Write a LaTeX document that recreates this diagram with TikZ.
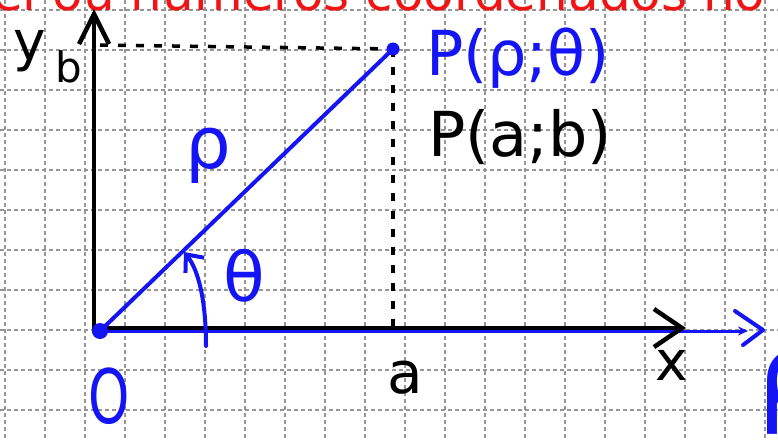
\documentclass[tikz,border=0pt]{standalone}
\usepackage{fontspec}
\setmainfont{DejaVu Sans}
\usetikzlibrary{arrows.meta}
\definecolor{penblue}{RGB}{20,20,245}
\definecolor{penred}{RGB}{240,20,20}
\definecolor{gridgray}{RGB}{150,150,150}
\begin{document}
\begin{tikzpicture}[x=1pt,y=-1pt,
  gridline/.style={gridgray,line width=1.3pt,dash pattern=on 4pt off 3pt},
  axisline/.style={black,line width=4.5pt,line cap=round},
  pen/.style={penblue,line width=4pt,line cap=round,line join=round},
  guide/.style={black,line width=3.5pt,dash pattern=on 8pt off 10pt},
  lbl/.style={inner sep=0pt}]
\fill[white] (0,0) rectangle (778,441);
\useasboundingbox (0,0) rectangle (778,441);
\clip (0,0) rectangle (778,441);
% grid
\foreach \i in {0,...,19} \draw[gridline] (5+40*\i,0) -- (5+40*\i,441);
\foreach \j in {0,...,10} \draw[gridline] (0,10+40*\j) -- (778,10+40*\j);
% red heading (cut off at top)
\node[penred,inner sep=0pt,anchor=base west,font=\fontsize{50}{50}\selectfont] (title) at (-8,11) {ei ou números coordenados no};
% coordinates
\coordinate (O) at (100,331);
\coordinate (P) at (393,49);
\coordinate (ybot) at (94,332);
\coordinate (ytop) at (94,9);
\coordinate (xleft) at (94,328);
\coordinate (xright) at (686,328);
\coordinate (rhoend) at (748,331);
\coordinate (hguide) at (100,45);
\coordinate (vguide) at (393,326);
% blue polar axis (below black x axis)
\draw[penblue,line width=3pt,-{Stealth[length=10pt,width=9pt]}] (O) -- (rhoend);
\coordinate (g1) at (735,311);
\coordinate (g2) at (763,330);
\coordinate (g3) at (743,345);
\draw[pen] (g1) -- (g2) -- (g3);
% black axes
\draw[axisline,-{Straight Barb[length=30pt,width=30pt]}] (ybot) -- (ytop);
\draw[axisline,-{Straight Barb[length=28pt,width=38pt]}] (xleft) -- (xright);
% dashed guides
\draw[guide] (hguide) -- (P);
\draw[guide] (P) -- (vguide);
% radius
\draw[pen] (O) -- (P);
\fill[penblue] (O) circle (8pt);
\fill[penblue] (P) circle (6.5pt);
% angle arrow
\coordinate (a1) at (206,346);
\coordinate (a2) at (184,252);
\draw[pen,-{Straight Barb[length=14pt,width=24pt]}] (a1) .. controls (206,296) and (197,268) .. (a2);
% labels
\node[lbl,font=\fontsize{55}{55}\selectfont] (ylab) at (30,51) {y};
\node[lbl,font=\fontsize{42}{42}\selectfont] (blab) at (69,67) {b};
\node[lbl,penblue,font=\fontsize{75}{75}\selectfont,xscale=0.7] (olab) at (109,396) {O};
\node[lbl,font=\fontsize{58}{58}\selectfont] (alab) at (405,378) {a};
\node[lbl,font=\fontsize{55}{55}\selectfont] (xlab) at (672,365) {x};
\node[lbl,penblue,font=\fontsize{72}{72}\selectfont] (rholab) at (208,156) {ρ};
\node[lbl,penblue,font=\fontsize{68}{68}\selectfont] (thlab) at (244,276) {θ};
\node[lbl,penblue,font=\fontsize{110}{110}\selectfont] (rhoax) at (792,392) {ρ};
\node[lbl,penblue,font=\fontsize{62}{62}\selectfont] (ppolar) at (518,58) {P(ρ;θ)};
\node[lbl,font=\fontsize{62}{62}\selectfont] (pcart) at (520,137) {P(a;b)};
\end{tikzpicture}
\end{document}
